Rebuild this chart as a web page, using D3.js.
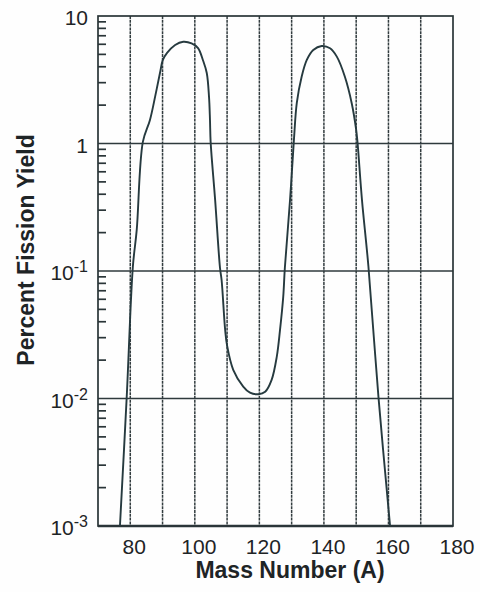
<!DOCTYPE html>
<html>
<head>
<meta charset="utf-8">
<script src="https://cdn.jsdelivr.net/npm/d3@7"></script>
<style>
html,body{margin:0;padding:0;background:#fff;}
svg{display:block;}
text{font-family:"Liberation Sans",Arial,Helvetica,sans-serif;fill:#1e2426;}
</style>
</head>
<body>
<svg id="chart" width="480" height="592"></svg>
<script>
// ---- data ----
const massNumbers = [76.8, 78.9, 80.8, 82.0, 83.9, 86.1, 87.7, 89.2, 90.1, 91.4, 93.9, 96.4, 99.0, 101.0, 102.5, 103.7, 104.4, 104.7, 104.9, 106.3, 107.8, 108.3, 109.4, 110.0, 111.9, 115.0, 117.1, 119.7, 121.8, 123.8, 125.4, 126.4, 127.4, 127.9, 129.5, 130.7, 131.6, 133.1, 134.7, 136.7, 139.3, 141.9, 144.0, 146.5, 148.6, 150.0, 150.4, 151.8, 153.8, 156.9, 160.5];
const fissionYield = [0.001, 0.0103, 0.108, 0.21, 1.03, 1.53, 2.33, 3.57, 4.52, 5.13, 5.93, 6.28, 6.1, 5.6, 4.52, 3.57, 2.32, 1.53, 1.03, 0.36, 0.106, 0.085, 0.0345, 0.026, 0.0168, 0.0124, 0.0111, 0.0108, 0.0113, 0.014, 0.0213, 0.0345, 0.063, 0.106, 0.36, 1.06, 2.08, 3.34, 4.52, 5.41, 5.82, 5.58, 4.8, 3.34, 2.08, 1.28, 1.03, 0.36, 0.108, 0.0103, 0.001];
const xTickLabels = [80, 100, 120, 140, 160, 180];
const xGridValues = [80, 90, 100, 110, 120, 130, 140, 150, 160, 170];
const yDecades = [0.001, 0.01, 0.1, 1, 10];
const yDecadeLabels = [["10","-3"], ["10","-2"], ["10","-1"], ["1",""], ["10",""]];
const xTitle = "Mass Number (A)";
const yTitle = "Percent Fission Yield";

// ---- layout ----
const svg = d3.select("#chart");
const L = 98, R = 453, T = 16, B = 526;
const x = d3.scaleLinear().domain([70, 180]).range([L, R]);
const y = d3.scaleLog().domain([0.001, 10]).range([B, T]);
const ink = "#2a3538";

svg.append("rect").attr("width", 480).attr("height", 592).attr("fill", "#fefefe");

// vertical grid
svg.append("g").selectAll("line").data(xGridValues).join("line")
  .attr("x1", d => x(d)).attr("x2", d => x(d))
  .attr("y1", T).attr("y2", B)
  .attr("stroke", "#323c3f").attr("stroke-width", 1.5)
  .attr("stroke-dasharray", "3,0.8");

// horizontal decade grid
svg.append("g").selectAll("line").data(yDecades.slice(1, -1)).join("line")
  .attr("x1", L).attr("x2", R)
  .attr("y1", d => y(d)).attr("y2", d => y(d))
  .attr("stroke", "#2f3a3d").attr("stroke-width", 1.6);

// minor ticks on left axis (inside)
const minor = [];
for (let e = -3; e < 1; e++) for (let k = 2; k <= 9; k++) minor.push(k * Math.pow(10, e));
svg.append("g").selectAll("line").data(minor).join("line")
  .attr("x1", L).attr("x2", L + 8)
  .attr("y1", d => y(d)).attr("y2", d => y(d))
  .attr("stroke", ink).attr("stroke-width", 1.7);

// frame
svg.append("rect").attr("x", L).attr("y", T).attr("width", R - L).attr("height", B - T)
  .attr("fill", "none").attr("stroke", ink).attr("stroke-width", 1.7);
svg.append("line").attr("x1", L).attr("x2", R).attr("y1", B).attr("y2", B)
  .attr("stroke", ink).attr("stroke-width", 2.3);

// clip
svg.append("clipPath").attr("id", "plotclip").append("rect")
  .attr("x", L).attr("y", T).attr("width", R - L).attr("height", B - T);

// curve
const pts = massNumbers.map((m, i) => [m, fissionYield[i]]);
const line = d3.line().x(d => x(d[0])).y(d => y(d[1])).curve(d3.curveCatmullRom.alpha(0.5));
svg.append("path").datum(pts).attr("d", line)
  .attr("clip-path", "url(#plotclip)")
  .attr("fill", "none").attr("stroke", "#263a3f").attr("stroke-width", 1.9)
  .attr("stroke-linejoin", "round");

// x tick labels
svg.append("g").selectAll("text").data(xTickLabels).join("text")
  .attr("x", d => x(d) + 4).attr("y", 554)
  .attr("text-anchor", "middle").attr("font-size", 21)
  .text(d => d);

// y tick labels
const yl = svg.append("g");
yDecades.forEach((v, i) => {
  const t = yl.append("text").attr("x", 88).attr("y", y(v) + 9)
    .attr("text-anchor", "end").attr("font-size", 21);
  t.append("tspan").text(yDecadeLabels[i][0]);
  if (yDecadeLabels[i][1]) {
    t.append("tspan").attr("dy", -8).attr("font-size", 16).text(yDecadeLabels[i][1]);
  }
});

// axis titles
svg.append("text").attr("x", 290).attr("y", 578)
  .attr("text-anchor", "middle").attr("font-size", 23).attr("font-weight", "bold")
  .text(xTitle);
svg.append("text").attr("transform", "translate(34,250) rotate(-90)")
  .attr("text-anchor", "middle").attr("font-size", 23).attr("font-weight", "bold")
  .text(yTitle);
</script>
</body>
</html>
